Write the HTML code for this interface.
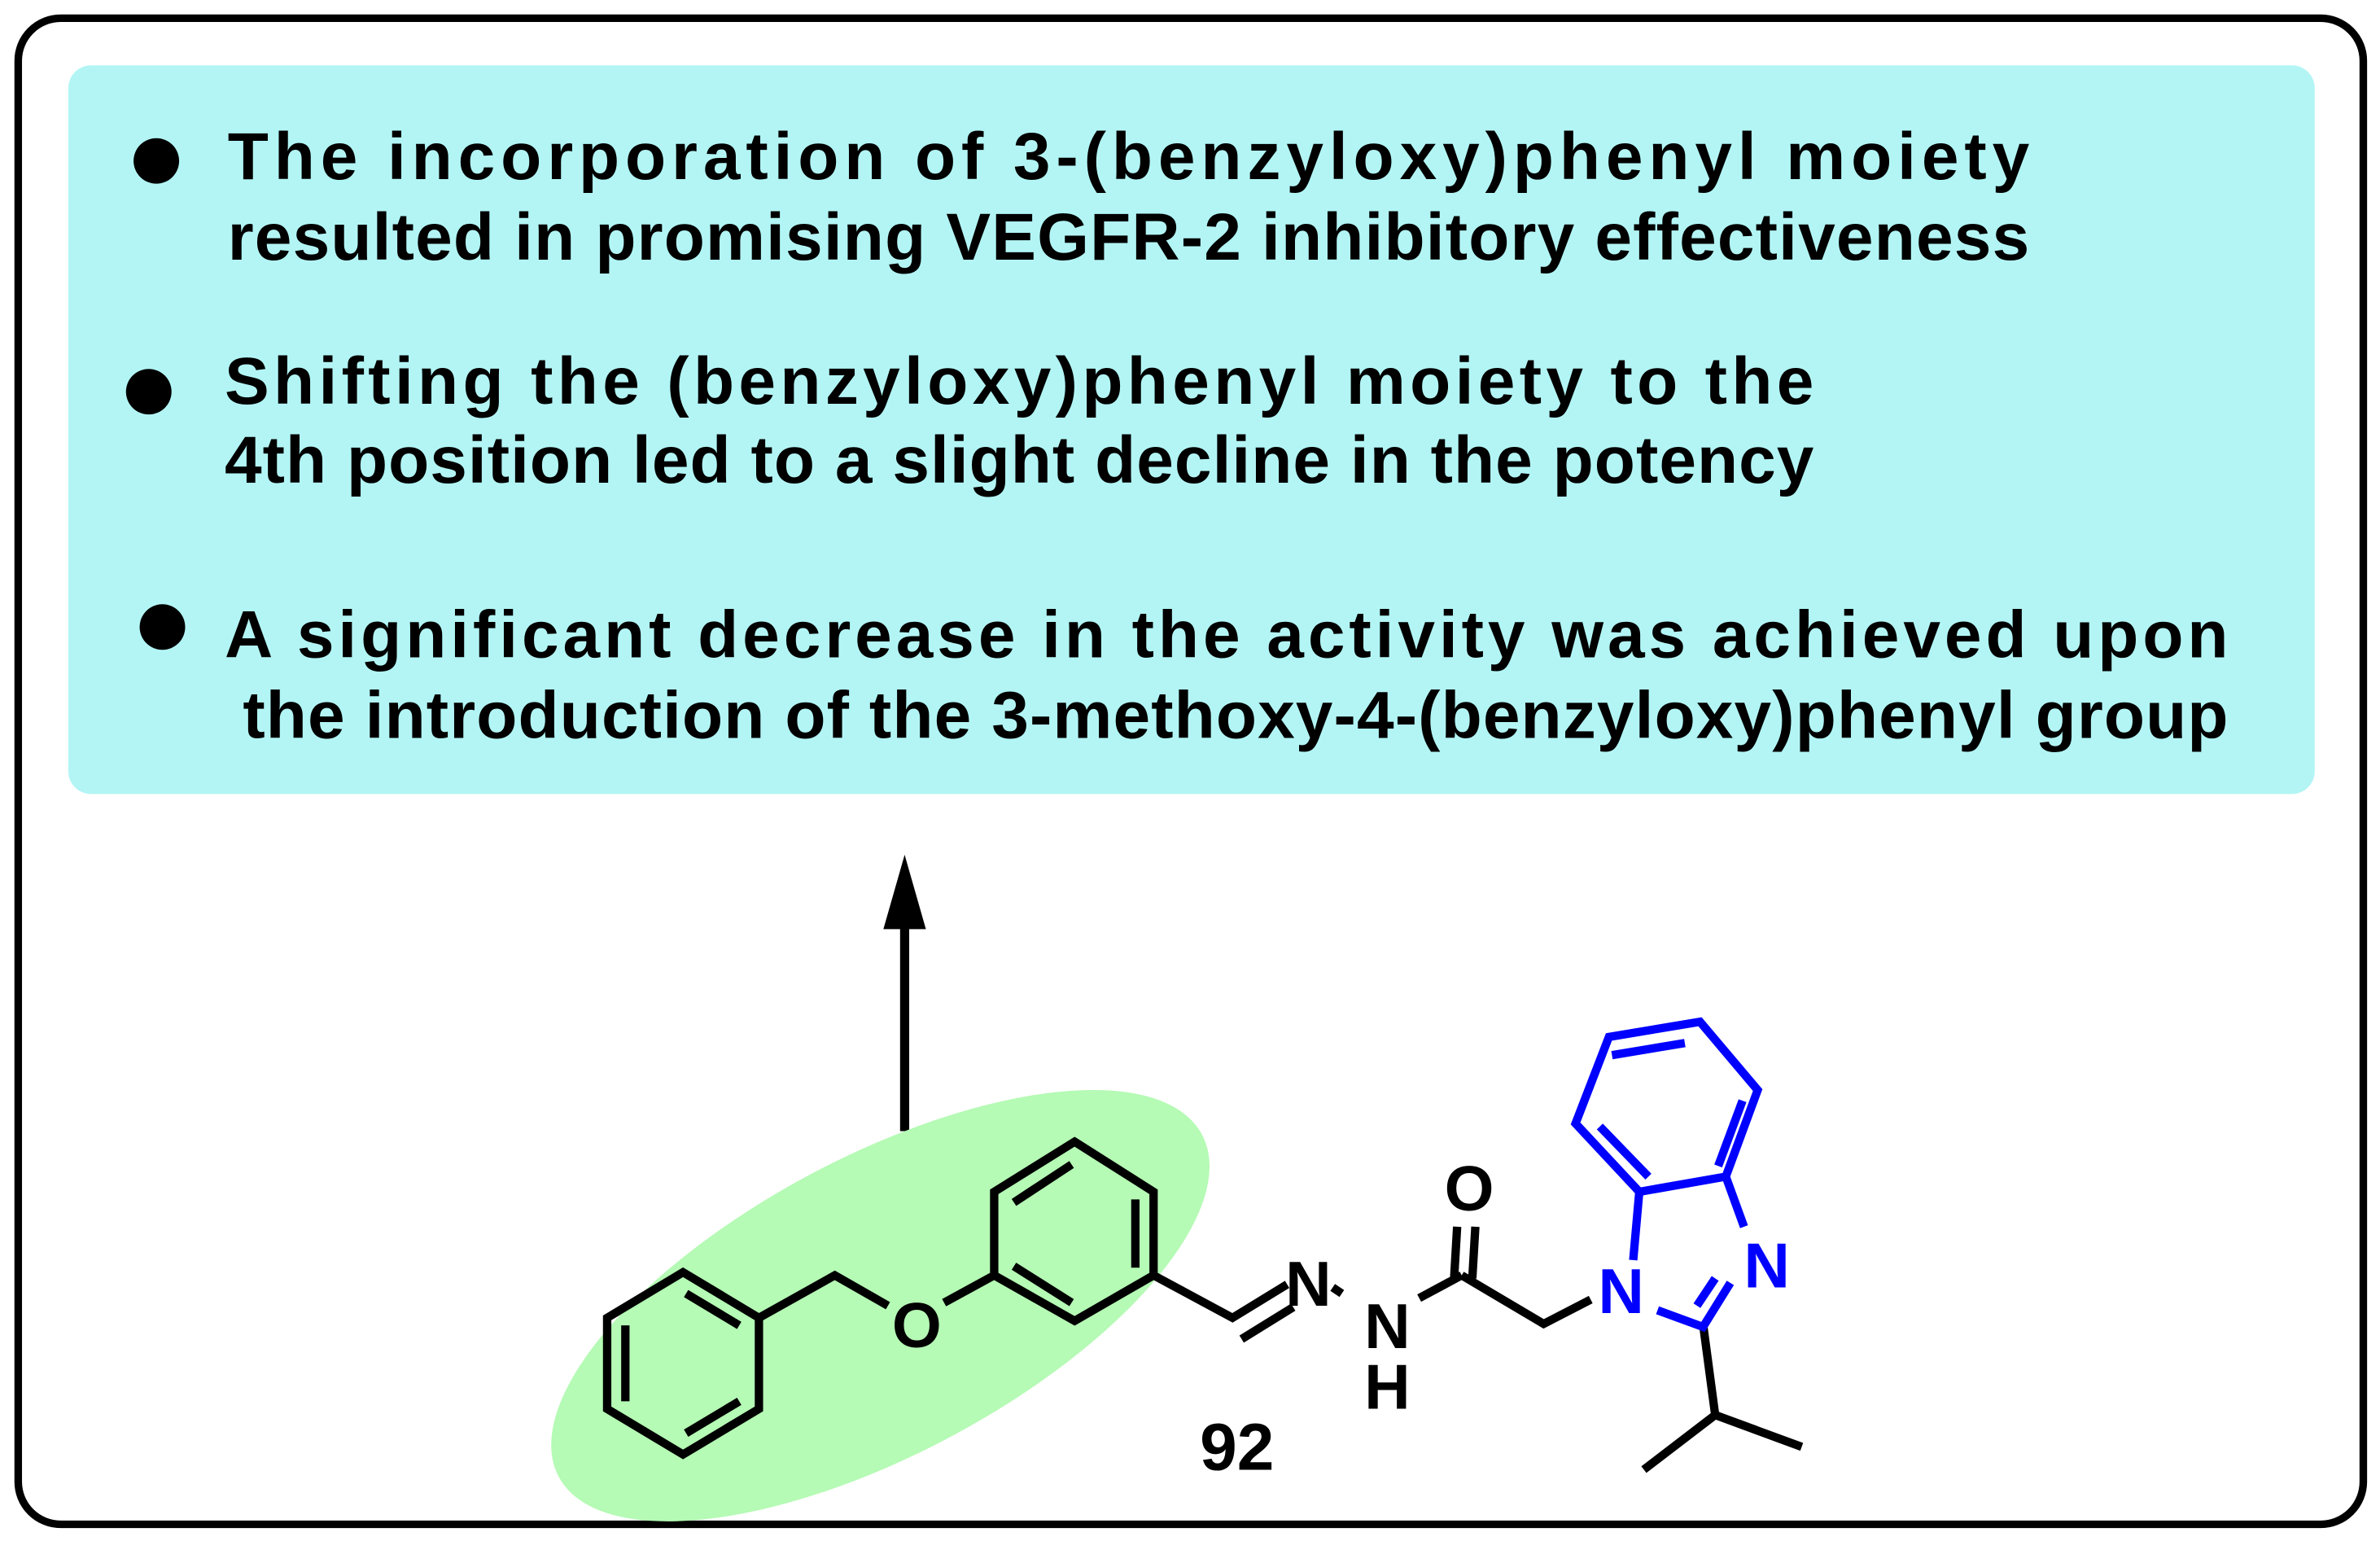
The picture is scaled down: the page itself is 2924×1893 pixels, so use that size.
<!DOCTYPE html>
<html><head><meta charset="utf-8"><style>
html,body{margin:0;padding:0;background:#fff;overflow:hidden;}
svg{display:block;}
text{font-family:"Liberation Sans",Arial,sans-serif;font-weight:bold;}
</style></head><body>
<svg width="2924" height="1893" viewBox="0 0 1568 1015" preserveAspectRatio="none" xmlns="http://www.w3.org/2000/svg">
<rect x="12" y="12" width="1545" height="992" rx="28" fill="#fff" stroke="#000" stroke-width="5"/>
<rect x="45" y="43" width="1480" height="480" rx="15" fill="#b3f5f5"/>
<circle cx="103" cy="106" r="15" fill="#000"/>
<circle cx="98" cy="258" r="15" fill="#000"/>
<circle cx="107" cy="413" r="15" fill="#000"/>
<g font-size="44" fill="#000">
<text x="150" y="118" textLength="1187" lengthAdjust="spacing">The incorporation of 3-(benzyloxy)phenyl moiety</text>
<text x="150" y="171" textLength="1187" lengthAdjust="spacing">resulted in promising VEGFR-2 inhibitory effectiveness</text>
<text x="148" y="266" textLength="1047" lengthAdjust="spacing">Shifting the (benzyloxy)phenyl moiety to the</text>
<text x="148" y="318" textLength="1047" lengthAdjust="spacing">4th position led to a slight decline in the potency</text>
<text x="148" y="433" textLength="1320" lengthAdjust="spacing">A significant decrease in the activity was achieved upon</text>
<text x="160" y="486" textLength="1308" lengthAdjust="spacing">the introduction of the 3-methoxy-4-(benzyloxy)phenyl group</text>
</g>
<line x1="596" y1="745" x2="596" y2="605" stroke="#000" stroke-width="6"/>
<polygon points="596,563 582,612 610,612" fill="#000"/>
<ellipse cx="580" cy="860" rx="240" ry="98" transform="rotate(-28 580 860)" fill="#b5fab5"/>
<g stroke="#000" stroke-width="5.5" fill="none">
<polygon points="450,838 500,868 500,928 450,958 400,928 400,868"/>
<line x1="452" y1="852" x2="487" y2="873"/>
<line x1="412" y1="873" x2="412" y2="923"/>
<line x1="452" y1="944" x2="487" y2="923"/>
<polyline points="500,868 550,840 585,860"/>
<line x1="622" y1="858" x2="655" y2="840"/>
<polygon points="708,752 760,785 760,840 708,870 655,840 655,785"/>
<line x1="706" y1="767" x2="668" y2="792"/>
<line x1="748" y1="790" x2="748" y2="835"/>
<line x1="668" y1="834" x2="706" y2="858"/>
<polyline points="760,840 812,868 848,846"/>
<line x1="818" y1="882" x2="852" y2="861"/>
<line x1="878" y1="848" x2="884" y2="852"/>
<line x1="935" y1="855" x2="963" y2="840"/>
<polyline points="963,840 1017,872 1048,856"/>
<line x1="958" y1="842" x2="960" y2="808"/>
<line x1="970" y1="842" x2="972" y2="808"/>
<polyline points="1122,872 1130,932 1083,968"/>
<line x1="1130" y1="932" x2="1187" y2="953"/>
</g>
<g stroke="#0000ff" stroke-width="5.5" fill="none">
<polygon points="1080,785 1038,740 1060,683 1120,673 1158,718 1137,775"/>
<line x1="1062" y1="695" x2="1110" y2="687"/>
<line x1="1148" y1="725" x2="1132" y2="768"/>
<line x1="1054" y1="742" x2="1086" y2="775"/>
<line x1="1080" y1="785" x2="1076" y2="830"/>
<line x1="1137" y1="775" x2="1149" y2="808"/>
<polyline points="1092,863 1122,874 1140,845"/>
<line x1="1118" y1="860" x2="1130" y2="842"/>
</g>
<g font-size="42" text-anchor="middle" fill="#000">
<text x="604" y="887">O</text>
<text x="862" y="860">N</text>
<text x="914" y="888">N</text>
<text x="914" y="928">H</text>
<text x="968" y="797">O</text>
<text x="1068" y="865" fill="#0000ff">N</text>
<text x="1164" y="848" fill="#0000ff">N</text>
</g>
<text x="815" y="968" font-size="44" text-anchor="middle" fill="#000">92</text>
</svg>
</body></html>
